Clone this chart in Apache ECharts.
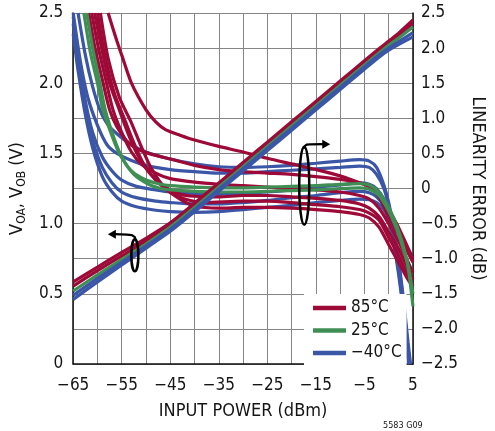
<!DOCTYPE html>
<html>
<head>
<meta charset="utf-8">
<script src="https://cdn.jsdelivr.net/npm/echarts@6/dist/echarts.min.js"></script>
<style>
html,body{margin:0;padding:0;background:#fff;}
#chart{width:495px;height:431px;}
</style>
</head>
<body>
<div id="chart"></div>
<script>
// ---- data ----
var xTicks = [-65, -55, -45, -35, -25, -15, -5, 5];
var leftTicks = [0, 0.5, 1.0, 1.5, 2.0, 2.5];
var rightTicks = [-2.5, -2.0, -1.5, -1.0, -0.5, 0, 0.5, 1.0, 1.5, 2.0, 2.5];
var legendNames = ['85°C', '25°C', '\u221240°C'];

// Output voltage VOA/VOB (left axis), [dBm, V]
var volt85a = [[-65,0.585],[-60,0.69],[-55,0.795],[-50,0.895],[-45,1.005],[-40,1.145],[-35,1.29],[-30,1.435],[-25,1.58],[-20,1.725],[-15,1.87],[-10,2.015],[-5,2.16],[-2,2.245],[0,2.30],[2,2.355],[5,2.45]];
var volt85b = [[-65,0.555],[-60,0.665],[-55,0.77],[-50,0.875],[-45,0.99],[-40,1.13],[-35,1.275],[-30,1.42],[-25,1.565],[-20,1.71],[-15,1.855],[-10,2.0],[-5,2.145],[-2,2.23],[0,2.285],[2,2.34],[5,2.425]];
var volt25 = [[-65,0.52],[-60,0.635],[-55,0.745],[-50,0.855],[-45,0.975],[-40,1.115],[-35,1.26],[-30,1.405],[-25,1.55],[-20,1.695],[-15,1.84],[-10,1.985],[-5,2.13],[-2,2.215],[0,2.27],[2,2.32],[5,2.40]];
var voltM40a = [[-65,0.49],[-60,0.61],[-55,0.725],[-50,0.84],[-45,0.96],[-40,1.10],[-35,1.245],[-30,1.39],[-25,1.535],[-20,1.68],[-15,1.825],[-10,1.97],[-5,2.115],[-2,2.20],[0,2.25],[2,2.295],[5,2.36]];
var voltM40b = [[-65,0.46],[-60,0.585],[-55,0.705],[-50,0.825],[-45,0.945],[-40,1.085],[-35,1.23],[-30,1.375],[-25,1.52],[-20,1.665],[-15,1.81],[-10,1.955],[-5,2.10],[-2,2.185],[0,2.235],[2,2.275],[5,2.33]];

// Linearity error (right axis), [dBm, dB]
var err85_1 = [[-57.8,2.5],[-56,2.1],[-55,1.9],[-53,1.5],[-50,1.12],[-48,0.95],[-46,0.84],[-43,0.76],[-40,0.69],[-35,0.6],[-30,0.52],[-25,0.43],[-20,0.35],[-15,0.27],[-10,0.18],[-6,0.08],[-4,0.03],[-2,-0.08],[0,-0.3],[2,-0.55],[4,-0.85],[5,-1.0]];
var err85_2 = [[-61.8,2.5],[-60.5,2.0],[-59,1.55],[-57.5,1.12],[-56,0.88],[-54,0.68],[-52,0.57],[-49,0.49],[-45,0.42],[-40,0.33],[-35,0.27],[-30,0.24],[-25,0.22],[-20,0.2],[-15,0.17],[-10,0.13],[-6,0.08],[-4,0.03],[-2,-0.12],[0,-0.4],[2,-0.65],[4,-0.92],[5,-1.05]];
var err85_3 = [[-61.2,2.5],[-59.8,2.0],[-58.3,1.55],[-56.8,1.12],[-55,0.8],[-53,0.52],[-51,0.35],[-48,0.22],[-45,0.14],[-40,0.09],[-35,0.06],[-30,0.04],[-25,0.02],[-20,0.0],[-15,-0.02],[-10,-0.05],[-6,-0.1],[-4,-0.15],[-2,-0.28],[0,-0.5],[2,-0.75],[4,-1.05],[5,-1.2]];
var err85_4 = [[-60.6,2.5],[-59,1.95],[-57.5,1.5],[-55.5,1.12],[-53.5,0.75],[-51.5,0.45],[-49,0.2],[-46,0.02],[-43,-0.08],[-40,-0.11],[-35,-0.12],[-30,-0.1],[-25,-0.1],[-20,-0.12],[-15,-0.14],[-10,-0.17],[-6,-0.22],[-4,-0.28],[-2,-0.4],[0,-0.62],[2,-0.85],[4,-1.15],[5,-1.3]];
var err85_5 = [[-60,2.5],[-58.5,1.9],[-56.5,1.35],[-54.5,1.0],[-52.5,0.65],[-50.5,0.35],[-48,0.12],[-45,-0.05],[-42,-0.15],[-38,-0.2],[-30,-0.18],[-25,-0.18],[-20,-0.2],[-15,-0.23],[-10,-0.26],[-6,-0.3],[-4,-0.35],[-2,-0.45],[0,-0.7],[2,-0.95],[4,-1.25],[5,-1.38]];
var err85_6 = [[-59.4,2.5],[-57.8,1.85],[-55.5,1.3],[-53.1,0.95],[-51,0.6],[-49,0.3],[-46,0.0],[-43,-0.15],[-40,-0.25],[-35,-0.28],[-30,-0.27],[-25,-0.27],[-20,-0.28],[-15,-0.3],[-10,-0.33],[-6,-0.37],[-4,-0.42],[-2,-0.55],[0,-0.8],[2,-1.05],[4,-1.3],[5,-1.4]];

var err25_1 = [[-62.8,2.5],[-61.5,1.95],[-60,1.5],[-59,1.15],[-57,0.75],[-55.5,0.5],[-53,0.25],[-50,0.12],[-47,0.06],[-45,0.04],[-40,0.02],[-35,0.01],[-30,0.01],[-25,0.02],[-20,0.03],[-15,0.04],[-10,0.06],[-6,0.07],[-4,0.05],[-2,-0.05],[0,-0.27],[1,-0.42],[2,-0.6],[3,-0.82],[4,-1.12],[5,-1.68]];
var err25_2 = [[-62.2,2.5],[-61,2.0],[-59.5,1.5],[-58.4,1.12],[-56.5,0.7],[-55,0.45],[-52.5,0.2],[-49.5,0.06],[-47,0.0],[-45,-0.02],[-40,-0.04],[-35,-0.05],[-30,-0.05],[-25,-0.04],[-20,-0.03],[-15,-0.02],[-10,0.0],[-6,0.01],[-4,-0.01],[-2,-0.1],[0,-0.32],[1,-0.47],[2,-0.64],[3,-0.86],[4,-1.1],[5,-1.5]];

var errM40_1 = [[-64,2.5],[-62.5,1.9],[-61,1.45],[-59.5,1.12],[-58,0.92],[-56,0.78],[-53,0.62],[-50,0.52],[-45,0.42],[-40,0.35],[-35,0.31],[-30,0.3],[-25,0.31],[-20,0.33],[-15,0.36],[-10,0.39],[-6,0.41],[-4,0.39],[-2.5,0.3],[-1,0.05],[0,-0.2],[1,-0.55],[2,-1.0],[3,-1.55],[4,-2.2],[4.5,-2.5]];
var errM40_2 = [[-65,2.5],[-63.5,1.8],[-62,1.3],[-60,0.9],[-58,0.62],[-56,0.5],[-53,0.4],[-50,0.33],[-45,0.27],[-40,0.24],[-35,0.22],[-30,0.22],[-25,0.24],[-20,0.26],[-15,0.28],[-10,0.3],[-6,0.32],[-4,0.3],[-2.5,0.2],[-1,0.0],[0,-0.25],[1,-0.6],[2,-1.05],[3,-1.6],[4,-2.3],[4.4,-2.5]];
var errM40_3 = [[-65,2.45],[-64,1.9],[-62.5,1.25],[-61,0.8],[-59,0.45],[-57,0.25],[-55,0.12],[-52,0.03],[-48,-0.02],[-45,-0.05],[-40,-0.07],[-35,-0.08],[-30,-0.07],[-25,-0.05],[-20,-0.02],[-15,0.02],[-10,0.05],[-6,0.08],[-4,0.06],[-2.5,0.0],[-1,-0.15],[0,-0.35],[1,-0.7],[2,-1.1],[3,-1.65],[4,-2.35],[4.3,-2.5]];
var errM40_4 = [[-65,2.35],[-64,1.78],[-62.5,1.12],[-61,0.68],[-59,0.3],[-57,0.08],[-55,-0.05],[-52,-0.13],[-48,-0.18],[-45,-0.2],[-40,-0.22],[-35,-0.22],[-30,-0.2],[-25,-0.17],[-20,-0.13],[-15,-0.1],[-10,-0.06],[-6,-0.04],[-4,-0.06],[-2.5,-0.12],[-1,-0.25],[0,-0.42],[1,-0.75],[2,-1.15],[3,-1.7],[4,-2.4],[4.2,-2.5]];
var errM40_5 = [[-65,2.2],[-64,1.68],[-62.5,1.05],[-61,0.58],[-59,0.17],[-57,-0.05],[-55,-0.18],[-52,-0.26],[-48,-0.31],[-45,-0.33],[-40,-0.34],[-35,-0.33],[-30,-0.3],[-25,-0.27],[-20,-0.24],[-15,-0.2],[-10,-0.17],[-6,-0.15],[-4,-0.16],[-2.5,-0.2],[-1,-0.3],[0,-0.45],[1,-0.78],[2,-1.2],[3,-1.75],[4,-2.45],[4.1,-2.5]];

// ---- style ----
var RED = '#9e0a37', GREEN = '#3f8f55', BLUE = '#3b56a6';
var FONT = '"Liberation Sans Narrow","DejaVu Sans Condensed","Liberation Sans",sans-serif';
var TXT = '#151515';
var minus = function (v) { return v < 0 ? '\u2212' + Math.abs(v) : String(v); };

function mk(name, color, data, yIdx) {
  return {
    type: 'line', name: name, yAxisIndex: yIdx, data: data,
    showSymbol: false, smooth: 0.25, clip: true,
    lineStyle: { color: color, width: 3.2 }, itemStyle: { color: color },
    emphasis: { disabled: true }, silent: true, animation: false
  };
}

var series = [
  mk(legendNames[2], BLUE, errM40_5, 1), mk(legendNames[2], BLUE, errM40_4, 1), mk(legendNames[2], BLUE, errM40_3, 1),
  mk(legendNames[2], BLUE, errM40_2, 1), mk(legendNames[2], BLUE, errM40_1, 1),
  mk(legendNames[0], RED, err85_6, 1), mk(legendNames[0], RED, err85_5, 1), mk(legendNames[0], RED, err85_4, 1),
  mk(legendNames[0], RED, err85_3, 1), mk(legendNames[0], RED, err85_2, 1), mk(legendNames[0], RED, err85_1, 1),
  mk(legendNames[1], GREEN, err25_2, 1), mk(legendNames[1], GREEN, err25_1, 1),
  mk(legendNames[0], RED, volt85a, 0), mk(legendNames[0], RED, volt85b, 0),
  mk(legendNames[1], GREEN, volt25, 0),
  mk(legendNames[2], BLUE, voltM40a, 0), mk(legendNames[2], BLUE, voltM40b, 0)
];

var chart = echarts.init(document.getElementById('chart'), null, { renderer: 'canvas' });
chart.setOption({
  animation: false,
  backgroundColor: '#fff',
  grid: { left: 72, right: 70, top: 13, bottom: 67, containLabel: false },
  xAxis: {
    type: 'value', min: -65, max: 5, interval: 5,
    name: 'INPUT POWER (dBm)', nameLocation: 'middle', nameGap: 38,
    nameTextStyle: { color: TXT, fontSize: 18, fontFamily: FONT },
    axisLine: { show: true, onZero: false, lineStyle: { color: '#111', width: 1.5 } },
    axisTick: { show: false },
    axisLabel: { margin: 13, color: TXT, fontSize: 17, fontFamily: FONT,
      formatter: function (v) { return xTicks.indexOf(v) >= 0 ? minus(v) : ''; } },
    splitLine: { show: true, lineStyle: { color: '#858585', width: 1 } }
  },
  yAxis: [{
    type: 'value', min: 0, max: 2.5, interval: 0.25, position: 'left',
    name: '{a|V}{s|OA}{a|, V}{s|OB}{a| (V)}', nameLocation: 'middle', nameGap: 42, nameRotate: 90,
    nameTextStyle: { color: TXT, fontFamily: FONT,
      rich: { a: { fontSize: 18, fontFamily: FONT, color: TXT, lineHeight: 22, verticalAlign: 'middle' },
              s: { fontSize: 12, fontFamily: FONT, color: TXT, lineHeight: 22, verticalAlign: 'bottom' } } },
    axisLine: { show: true, onZero: false, lineStyle: { color: '#111', width: 1.5 } },
    axisTick: { show: false },
    axisLabel: { margin: 10, color: TXT, fontSize: 17, fontFamily: FONT,
      formatter: function (v) {
        var r = Math.round(v * 100) / 100;
        for (var i = 0; i < leftTicks.length; i++) if (Math.abs(leftTicks[i] - r) < 1e-6) return r === 0 ? '0' : r.toFixed(1);
        return '';
      } },
    splitLine: { show: true, lineStyle: { color: '#858585', width: 1 } }
  }, {
    type: 'value', min: -2.5, max: 2.5, interval: 0.5, position: 'right',
    name: 'LINEARITY ERROR (dB)', nameLocation: 'middle', nameGap: 52, nameRotate: -90,
    nameTextStyle: { color: TXT, fontSize: 18, fontFamily: FONT },
    axisLine: { show: true, onZero: false, lineStyle: { color: '#111', width: 1.5 } },
    axisTick: { show: false },
    axisLabel: { margin: 8, color: TXT, fontSize: 17, fontFamily: FONT,
      formatter: function (v) {
        var r = Math.round(v * 10) / 10;
        if (rightTicks.indexOf(r) < 0) return '';
        if (r === 0) return '0';
        return (r < 0 ? '\u2212' : '') + Math.abs(r).toFixed(1);
      } },
    splitLine: { show: false }
  }],
  legend: {
    data: legendNames, orient: 'vertical', left: 304, top: 294,
    backgroundColor: '#fff', padding: [5, 5, 5, 9], itemGap: 4.5,
    icon: 'rect', itemWidth: 33, itemHeight: 4.5, selectedMode: false,
    textStyle: { color: TXT, fontSize: 17, fontFamily: FONT, lineHeight: 18 },
    z: 10
  },
  series: series
});

// annotations anchored in data coordinates
var p1 = chart.convertToPixel({ xAxisIndex: 0, yAxisIndex: 0 }, [-52.3, 0.775]);
var p2 = chart.convertToPixel({ xAxisIndex: 0, yAxisIndex: 1 }, [-17.4, 0.04]);
var blk = '#000';
function ann(p, ry, rx, dir) {
  var cx = p[0], top = p[1] - ry;
  var els = [{ type: 'ellipse', shape: { cx: cx, cy: p[1], rx: rx, ry: ry }, style: { fill: null, stroke: blk, lineWidth: 2.5 }, z: 20 }];
  if (dir < 0) {
    els.push({ type: 'polyline', shape: { points: [[cx + 1, top + 2], [cx, top - 2], [cx - 3, top - 4], [cx - 8, top - 4.5], [cx - 20, top - 5]] },
      style: { fill: null, stroke: blk, lineWidth: 2.2 }, z: 20 });
    els.push({ type: 'polygon', shape: { points: [[cx - 19, top - 9.5], [cx - 27, top - 5], [cx - 19, top - 0.5]] }, style: { fill: blk }, z: 20 });
  } else {
    els.push({ type: 'polyline', shape: { points: [[cx, top + 2], [cx + 0.5, top - 0.5], [cx + 2.5, top - 2], [cx + 6, top - 2.3], [cx + 19, top - 2.5]] },
      style: { fill: null, stroke: blk, lineWidth: 2.2 }, z: 20 });
    els.push({ type: 'polygon', shape: { points: [[cx + 18, top - 7], [cx + 26, top - 2.5], [cx + 18, top + 2]] }, style: { fill: blk }, z: 20 });
  }
  return els;
}
var graphics = ann(p1, 16, 3.5, -1).concat(ann(p2, 39, 5, 1));
graphics.push({ type: 'text', left: 383, top: 421, style: { text: '5583 G09', fill: TXT, font: '9px ' + FONT }, z: 20 });
chart.setOption({ graphic: graphics });
</script>
</body>
</html>
